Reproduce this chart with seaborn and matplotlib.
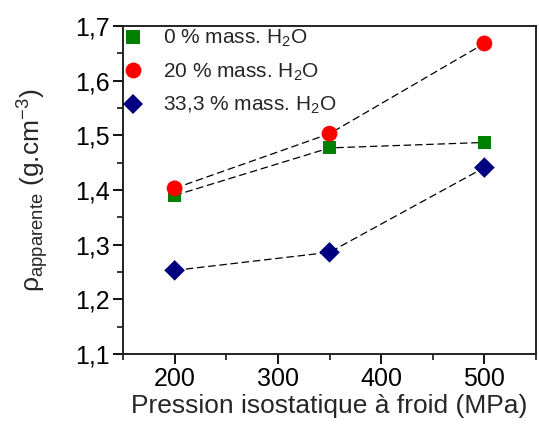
import matplotlib
matplotlib.use("Agg")
import matplotlib.pyplot as plt
import seaborn as sns
import pandas as pd
from matplotlib.ticker import FixedLocator, FixedFormatter, MultipleLocator

pressure = [200, 350, 500]
series_names = ["0 % mass. H$_2$O", "20 % mass. H$_2$O", "33,3 % mass. H$_2$O"]
rho_0 = [1.390, 1.477, 1.487]
rho_20 = [1.403, 1.503, 1.668]
rho_33 = [1.253, 1.286, 1.441]
yticks = [1.1, 1.2, 1.3, 1.4, 1.5, 1.6, 1.7]
ytick_labels = ["1,1", "1,2", "1,3", "1,4", "1,5", "1,6", "1,7"]
xticks = [200, 300, 400, 500]

colors = {series_names[0]: "#008000", series_names[1]: "#ff0000", series_names[2]: "#000080"}
markers = {series_names[0]: "s", series_names[1]: "o", series_names[2]: "D"}
sizes = {series_names[0]: 90, series_names[1]: 130, series_names[2]: 110}

rows = []
for name, vals in zip(series_names, [rho_0, rho_20, rho_33]):
    for p, v in zip(pressure, vals):
        rows.append({"P": p, "rho": v, "serie": name})
df = pd.DataFrame(rows)

sns.set_style("ticks")
plt.rcParams["font.family"] = ["Liberation Sans", "DejaVu Sans"]
plt.rcParams["mathtext.fontset"] = "custom"
plt.rcParams["mathtext.rm"] = "Liberation Sans"
plt.rcParams["mathtext.it"] = "Liberation Sans:italic"

fig = plt.figure(figsize=(5.39, 4.28), dpi=100)
ax = fig.add_axes([123/539, 1-354/428, (536-123)/539, (354-26)/428])

sns.lineplot(data=df, x="P", y="rho", hue="serie", palette={n: "black" for n in series_names},
             linestyle=(0, (6, 3)), linewidth=0.9, legend=False, ax=ax, zorder=1)
sns.scatterplot(data=df, x="P", y="rho", hue="serie", style="serie", size="serie",
                palette=colors, markers=markers, sizes=sizes, linewidth=0, ax=ax, zorder=3)

ax.set_xlim(150, 550)
ax.set_ylim(1.1, 1.7)
ax.xaxis.set_major_locator(FixedLocator(xticks))
ax.xaxis.set_minor_locator(MultipleLocator(50))
ax.yaxis.set_major_locator(FixedLocator(yticks))
ax.yaxis.set_major_formatter(FixedFormatter(ytick_labels))
ax.yaxis.set_minor_locator(MultipleLocator(0.05))
ax.tick_params(which="major", direction="out", length=7, width=1.3, labelsize=18,
               colors="black", pad=2.5)
ax.tick_params(which="minor", direction="out", length=4, width=1.3)
for s in ax.spines.values():
    s.set_linewidth(1.4)
    s.set_color("#222222")

ax.set_xlabel("Pression isostatique à froid (MPa)", fontsize=19, labelpad=2)
ax.set_ylabel(r"ρ$_{\mathrm{apparente}}$ (g.cm$^{-3}$)", fontsize=19, labelpad=17)

handles, labels = ax.get_legend_handles_labels()
leg = ax.legend(handles, labels, loc="upper left", frameon=False, fontsize=15,
                handletextpad=1.0, labelspacing=0.58, borderaxespad=0.0,
                handlelength=0.8, borderpad=0.1)

fig.savefig("out.png", dpi=100)
